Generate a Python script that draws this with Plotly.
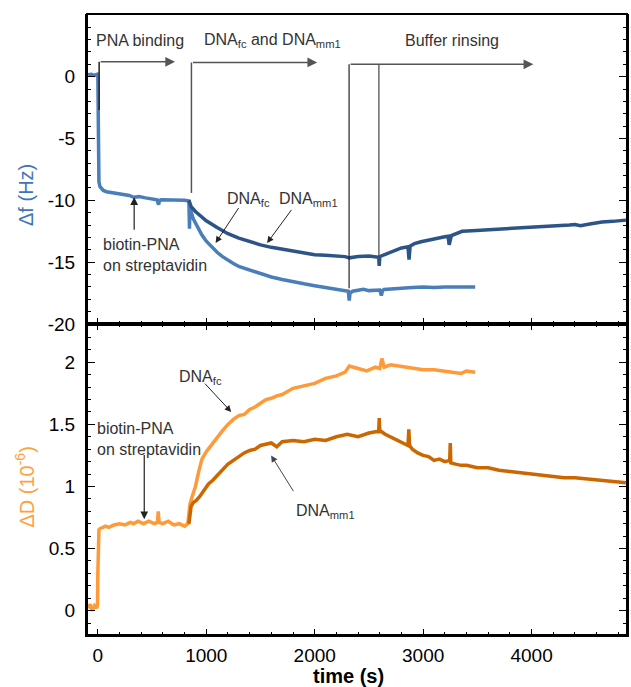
import plotly.graph_objects as go
from plotly.subplots import make_subplots

# ---------------- data ----------------
# Δf, DNA_fc run (includes PNA binding phase)
t_f_fc = [-90, -60, -30, -5, 0, 3, 6, 10, 20, 35, 50, 80, 120, 170, 230, 290, 330, 380, 440, 500,
          545, 560, 570, 585, 620, 680, 740, 800, 840, 845, 850, 860, 880, 910, 960, 1000, 1050, 1100,
          1150, 1200, 1250, 1300, 1400, 1500, 1550, 1600, 1700, 1800, 1900, 2000, 2100, 2200, 2280,
          2310, 2318, 2326, 2350, 2400, 2450, 2500, 2560, 2600, 2615, 2625, 2640, 2700, 2800, 2900,
          3000, 3100, 3200, 3300, 3400, 3480]
f_fc = [0.15, 0.2, 0.1, 0.2, 0.1, -3.0, -7.8, -8.5, -8.9, -9.1, -9.2, -9.3, -9.35, -9.4, -9.5, -9.6,
        -9.75, -9.7, -9.8, -9.85, -9.95, -10.35, -10.0, -9.95, -9.95, -10.0, -9.95, -10.0, -10.05,
        -12.3, -10.3, -10.9, -11.5, -12.0, -12.8, -13.3, -13.8, -14.2, -14.55, -14.85, -15.1, -15.35,
        -15.65, -15.95, -16.1, -16.2, -16.4, -16.6, -16.75, -16.9, -17.05, -17.2, -17.3, -17.35,
        -18.1, -17.5, -17.35, -17.25, -17.2, -17.3, -17.3, -17.25, -17.7, -17.3, -17.2, -17.15,
        -17.1, -17.05, -17.0, -17.05, -17.0, -17.0, -17.05, -17.0]

# Δf, DNA_mm1 run
t_f_mm = [840, 860, 900, 950, 1000, 1100, 1200, 1300, 1400, 1500, 1600, 1700, 1800, 1900, 2000,
          2100, 2200, 2280, 2320, 2400, 2500, 2560, 2590, 2595, 2600, 2640, 2700, 2760, 2800, 2860,
          2870, 2880, 2920, 2980, 3050, 3120, 3200, 3230, 3240, 3260, 3300, 3360, 3450, 3550, 3650,
          3750, 3850, 3950, 4050, 4150, 4250, 4350, 4400, 4450, 4550, 4650, 4750, 4870]
f_mm = [-10.0, -10.5, -10.9, -11.3, -11.65, -12.2, -12.7, -13.05, -13.35, -13.6, -13.8, -13.95,
        -14.15, -14.3, -14.4, -14.45, -14.5, -14.55, -14.65, -14.55, -14.5, -14.55, -14.6, -15.3,
        -14.55, -14.4, -14.2, -14.0, -13.85, -13.75, -14.8, -13.7, -13.5, -13.35, -13.2, -13.05,
        -12.95, -12.9, -13.6, -12.85, -12.7, -12.5, -12.45, -12.4, -12.35, -12.3, -12.3, -12.2,
        -12.2, -12.15, -12.1, -12.0, -11.95, -12.05, -11.9, -11.75, -11.7, -11.6]

# ΔD, DNA_fc run (includes PNA binding phase)
t_d_fc = [-90, -70, -50, -30, -10, -3, 0, 5, 10, 20, 40, 70, 100, 150, 200, 250, 300, 330, 370, 420,
          470, 520, 550, 557, 565, 600, 650, 700, 750, 800, 830, 840, 850, 870, 900, 930, 960, 1000,
          1050, 1100, 1150, 1200, 1250, 1300, 1350, 1400, 1450, 1500, 1550, 1600, 1650, 1700, 1800,
          1900, 2000, 2100, 2200, 2280, 2320, 2400, 2480, 2560, 2600, 2620, 2640, 2700, 2780, 2850,
          2900, 3000, 3100, 3200, 3300, 3350, 3400, 3480]
d_fc = [0.02, 0.05, 0.0, 0.04, 0.02, 0.05, 0.3, 0.62, 0.65, 0.66, 0.67, 0.68, 0.67, 0.69, 0.70,
        0.69, 0.71, 0.70, 0.72, 0.70, 0.72, 0.70, 0.71, 0.80, 0.71, 0.70, 0.72, 0.69, 0.70, 0.68,
        0.70, 0.80, 0.86, 0.92, 1.0, 1.12, 1.22, 1.28, 1.34, 1.40, 1.45, 1.50, 1.54, 1.57, 1.58,
        1.62, 1.64, 1.67, 1.70, 1.71, 1.73, 1.74, 1.79, 1.81, 1.83, 1.87, 1.89, 1.92, 1.97, 1.95,
        1.93, 1.96, 1.95, 2.03, 1.96, 1.98, 1.97, 1.96, 1.95, 1.94, 1.94, 1.93, 1.92, 1.91, 1.93,
        1.92]

# ΔD, DNA_mm1 run
t_d_mm = [840, 860, 880, 910, 940, 980, 1020, 1060, 1100, 1150, 1200, 1250, 1300, 1350, 1400, 1450,
          1500, 1550, 1600, 1650, 1700, 1800, 1900, 2000, 2100, 2200, 2300, 2400, 2500, 2560, 2590,
          2595, 2600, 2650, 2700, 2760, 2820, 2860, 2868, 2875, 2900, 2950, 3000, 3050, 3100, 3150,
          3200, 3245, 3250, 3255, 3300, 3350, 3400, 3450, 3500, 3600, 3700, 3800, 3900, 4000, 4100,
          4200, 4300, 4400, 4500, 4600, 4700, 4800, 4870]
d_mm = [0.70, 0.84, 0.87, 0.89, 0.92, 0.97, 1.02, 1.05, 1.09, 1.13, 1.18, 1.21, 1.24, 1.27, 1.29,
        1.30, 1.33, 1.34, 1.35, 1.32, 1.36, 1.37, 1.36, 1.38, 1.37, 1.40, 1.42, 1.40, 1.43, 1.44,
        1.44, 1.55, 1.45, 1.42, 1.40, 1.37, 1.35, 1.33, 1.46, 1.33, 1.30, 1.27, 1.25, 1.24, 1.21,
        1.22, 1.20, 1.21, 1.35, 1.19, 1.18, 1.17, 1.17, 1.16, 1.15, 1.15, 1.13, 1.12, 1.11, 1.10,
        1.09, 1.08, 1.07, 1.07, 1.06, 1.05, 1.04, 1.03, 1.03]

x_ticks = [0, 1000, 2000, 3000, 4000]
f_ticks = [-20, -15, -10, -5, 0]
f_ticktext = ["-20", "-15", "-10", "-5", "0"]
d_ticks = [0, 0.5, 1, 1.5, 2]
d_ticktext = ["0", "0.5", "1", "1.5", "2"]

for a, b in [(t_f_fc, f_fc), (t_f_mm, f_mm), (t_d_fc, d_fc), (t_d_mm, d_mm)]:
    assert len(a) == len(b), (len(a), len(b))

# ---------------- figure ----------------
C_FC_F = "#4a7ebb"
C_MM_F = "#2c5486"
C_FC_D = "#ff9a38"
C_MM_D = "#cc6600"
TXT = "#333333"
FONT = "Liberation Sans, Arial, sans-serif"
LW = 3.5

fig = make_subplots(rows=2, cols=1, shared_xaxes=True, vertical_spacing=0)
fig.add_trace(go.Scatter(x=t_f_fc, y=f_fc, mode="lines", line=dict(color=C_FC_F, width=LW)), row=1, col=1)
fig.add_trace(go.Scatter(x=t_f_mm, y=f_mm, mode="lines", line=dict(color=C_MM_F, width=LW)), row=1, col=1)
fig.add_trace(go.Scatter(x=t_d_fc, y=d_fc, mode="lines", line=dict(color=C_FC_D, width=LW)), row=2, col=1)
fig.add_trace(go.Scatter(x=t_d_mm, y=d_mm, mode="lines", line=dict(color=C_MM_D, width=LW)), row=2, col=1)

split = 0.5008
common_x = dict(range=[-100, 4880], showgrid=False, zeroline=False, linecolor="black", linewidth=2,
                ticks="inside", ticklen=6, tickwidth=1.3, tickcolor="black",
                tickvals=x_ticks, ticktext=[str(v) for v in x_ticks],
                minor=dict(dtick=200, tick0=0, ticks="inside", ticklen=3, tickcolor="black", tickwidth=1),
                tickfont=dict(family=FONT, size=19, color="black"))
fig.update_xaxes(**common_x)
fig.update_layout(
    xaxis=dict(domain=[0, 1], mirror=False, showticklabels=False, ticks="inside"),
    xaxis2=dict(domain=[0, 1], mirror="ticks", showticklabels=True, ticklabelstandoff=2),
    yaxis=dict(domain=[split, 1], range=[-20, 5.07], tickvals=f_ticks, ticktext=f_ticktext,
               minor=dict(dtick=1, tick0=0, ticks="inside", ticklen=4, tickcolor="black", tickwidth=1)),
    yaxis2=dict(domain=[0, split], range=[-0.196, 2.308], tickvals=d_ticks, ticktext=d_ticktext,
                minor=dict(dtick=0.1, tick0=0, ticks="inside", ticklen=4, tickcolor="black", tickwidth=1)),
)
fig.update_yaxes(showgrid=False, zeroline=False, linecolor="black", linewidth=2, mirror="ticks",
                 ticks="inside", ticklen=8, tickwidth=1.3, tickcolor="black", ticklabelstandoff=6,
                 tickfont=dict(family=FONT, size=19, color="black"))

# ---------------- annotations ----------------
ann = []
def text(x, y, s, xref="x", yref="y", size=16, color=TXT, align="center", angle=0):
    ann.append(dict(x=x, y=y, xref=xref, yref=yref, text=s, showarrow=False, align=align,
                    xanchor="center", yanchor="middle",
                    textangle=angle, font=dict(family=FONT, size=size, color=color)))

def arrow(x0, y0, x1, y1, xref="x", yref="y", color=TXT, width=1.2, size=1.3):
    ann.append(dict(x=x1, y=y1, ax=x0, ay=y0, xref=xref, yref=yref, axref=xref, ayref=yref,
                    text="", showarrow=True, arrowhead=2, arrowsize=size, arrowwidth=width,
                    arrowcolor=color, standoff=0, startstandoff=0))

# top panel
text(388, 2.95, "PNA binding")
text(1610, 2.95, "DNA<sub>fc</sub> and DNA<sub>mm1</sub>")
text(3263, 2.9, "Buffer rinsing")
arrow(12, 1.2, 712, 1.2, color="#555555", width=1.5)
arrow(863, 1.15, 2023, 1.15, color="#555555", width=1.5)
arrow(2317, 1.0, 4016, 1.0, color="#555555", width=1.5)
text(530, -14.45, "biotin-PNA<br>on streptavidin", align="left")
arrow(335, -12.5, 335, -9.75, color="#222222")
text(1391, -9.9, "DNA<sub>fc</sub>")
text(1945, -9.9, "DNA<sub>mm1</sub>")
arrow(1307, -10.5, 1086, -13.45, color="#222222", width=1)
arrow(1796, -10.65, 1561, -13.45, color="#222222", width=1)

# bottom panel
text(945, 1.88, "DNA<sub>fc</sub>", xref="x2", yref="y2")
arrow(975, 1.84, 1230, 1.60, xref="x2", yref="y2", color="#222222", width=1)
text(470, 1.38, "biotin-PNA<br>on streptavidin", xref="x2", yref="y2", align="left")
arrow(428, 1.265, 428, 0.735, xref="x2", yref="y2", color="#222222")
text(2095, 0.80, "DNA<sub>mm1</sub>", xref="x2", yref="y2")
arrow(1812, 0.95, 1598, 1.25, xref="x2", yref="y2", color="#444444", width=1)

# axis titles
text(-0.113, 0.7085, "Δf (Hz)", xref="paper", yref="paper", size=20, color="#3f74b5", angle=-90)
text(-0.116, 0.238, "ΔD (10<sup>-6</sup>)", xref="paper", yref="paper", size=20, color="#ff9f40", angle=-90)
text(0.485, -0.066, "<b>time (s)</b>", xref="paper", yref="paper", size=20, color="black")

shapes = [
    dict(type="rect", xref="paper", yref="paper", x0=0, x1=1, y0=0, y1=1,
         line=dict(color="black", width=2), layer="above"),
    dict(type="line", xref="paper", yref="paper", x0=0, x1=1, y0=split, y1=split,
         line=dict(color="black", width=2), layer="above"),
    dict(type="line", xref="x", yref="y", x0=12, x1=12, y0=1.2, y1=-2.7, line=dict(color="#222222", width=1.5)),
    dict(type="line", xref="x", yref="y", x0=863, x1=863, y0=1.15, y1=-9.4, line=dict(color="#555555", width=1.5)),
    dict(type="line", xref="x", yref="y", x0=2317, x1=2317, y0=1.0, y1=-17.1, line=dict(color="#222222", width=1.2)),
    dict(type="line", xref="x", yref="y", x0=2592, x1=2592, y0=1.0, y1=-14.6, line=dict(color="#444444", width=1.2)),
]

fig.update_layout(
    width=631, height=687,
    margin=dict(l=87, r=2, t=14, b=52),
    paper_bgcolor="white", plot_bgcolor="white",
    showlegend=False,
    annotations=ann, shapes=shapes,
    font=dict(family=FONT),
)

# remove the browser's default page margin so the figure fills the window exactly
fig.write_html("out.html", config={"displayModeBar": False},
               post_script="document.body.style.margin='0';document.body.style.overflow='hidden';")
